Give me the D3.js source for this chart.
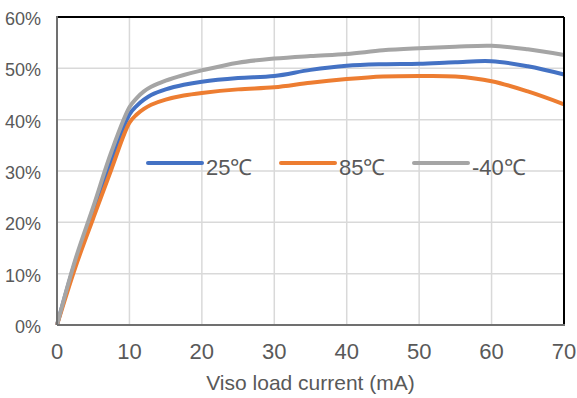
<!DOCTYPE html>
<html>
<head>
<meta charset="utf-8">
<script src="https://cdn.jsdelivr.net/npm/d3@7"></script>
<style>
  body { margin: 0; background: #fff; }
  text { font-family: "Liberation Sans", Arial, sans-serif; fill: #595959; }
</style>
</head>
<body>
<div id="chart"></div>
<script>
// 数据
const loadCurrent = [0, 2.5, 5, 7.5, 10, 11, 12, 13, 15, 17.5, 20, 25, 30, 35, 40, 45, 50, 55, 60, 65, 70];
const eff25 = [0, 12.2, 22, 32, 41, 42.7, 43.9, 44.8, 45.9, 46.8, 47.4, 48.1, 48.5, 49.7, 50.5, 50.8, 50.9, 51.2, 51.4, 50.4, 48.8];
const eff85 = [0, 11.1, 20.8, 30.3, 39.4, 41, 42.1, 42.9, 43.9, 44.7, 45.2, 45.9, 46.3, 47.2, 47.9, 48.4, 48.5, 48.4, 47.5, 45.5, 43.0];
const effM40 = [0, 12.6, 23, 33.7, 42.4, 44.2, 45.5, 46.4, 47.6, 48.7, 49.6, 51.1, 51.9, 52.4, 52.8, 53.5, 53.9, 54.2, 54.4, 53.7, 52.6];
const xTicks = [0, 10, 20, 30, 40, 50, 60, 70];
const yTicks = [0, 10, 20, 30, 40, 50, 60];

const series = [
    {name: "25℃", values: eff25, color: "#4472C4"},
    {name: "85℃", values: eff85, color: "#ED7D31"},
    {name: "-40℃", values: effM40, color: "#A5A5A5"}
];

const width = 577, height = 398;
const plot = {left: 57, right: 564, top: 17, bottom: 325};

const svg = d3.select("#chart").append("svg")
    .attr("width", width)
    .attr("height", height);

const x = d3.scaleLinear().domain([0, 70]).range([plot.left, plot.right]);
const y = d3.scaleLinear().domain([0, 60]).range([plot.bottom, plot.top]);

// 网格线
svg.append("g").selectAll("line.v")
    .data(xTicks.slice(1, -1))
    .join("line")
    .attr("x1", d => x(d)).attr("x2", d => x(d))
    .attr("y1", plot.top).attr("y2", plot.bottom)
    .attr("stroke", "#d9d9d9").attr("stroke-width", 1.5);

svg.append("g").selectAll("line.h")
    .data(yTicks.slice(1, -1))
    .join("line")
    .attr("x1", plot.left).attr("x2", plot.right)
    .attr("y1", d => y(d)).attr("y2", d => y(d))
    .attr("stroke", "#d9d9d9").attr("stroke-width", 1.5);

// 折线（平滑）
const line = d3.line()
    .x((d, i) => x(loadCurrent[i]))
    .y(d => y(d))
    .curve(d3.curveCatmullRom.alpha(0.5));

svg.append("g").selectAll("path")
    .data(series)
    .join("path")
    .attr("d", d => line(d.values))
    .attr("fill", "none")
    .attr("stroke", d => d.color)
    .attr("stroke-width", 4)
    .attr("stroke-linejoin", "round");

// 边框：上、右黑色，左、下灰色
svg.append("line")
    .attr("x1", plot.left).attr("x2", plot.right)
    .attr("y1", plot.top).attr("y2", plot.top)
    .attr("stroke", "#000").attr("stroke-width", 2);
svg.append("line")
    .attr("x1", plot.right).attr("x2", plot.right)
    .attr("y1", plot.top).attr("y2", plot.bottom)
    .attr("stroke", "#000").attr("stroke-width", 2);
svg.append("line")
    .attr("x1", plot.left).attr("x2", plot.left)
    .attr("y1", plot.top - 1).attr("y2", plot.bottom)
    .attr("stroke", "#707070").attr("stroke-width", 2);
svg.append("line")
    .attr("x1", plot.left).attr("x2", plot.right + 1)
    .attr("y1", plot.bottom).attr("y2", plot.bottom)
    .attr("stroke", "#707070").attr("stroke-width", 2);

// 坐标轴标签
svg.append("g").selectAll("text")
    .data(yTicks)
    .join("text")
    .attr("x", 41)
    .attr("y", d => y(d) + 8)
    .attr("text-anchor", "end")
    .style("font-size", "18px")
    .text(d => d + "%");

svg.append("g").selectAll("text")
    .data(xTicks)
    .join("text")
    .attr("x", d => x(d))
    .attr("y", 359)
    .attr("text-anchor", "middle")
    .style("font-size", "22px")
    .text(d => d);

svg.append("text")
    .attr("x", (plot.left + plot.right) / 2)
    .attr("y", 390)
    .attr("text-anchor", "middle")
    .style("font-size", "21px")
    .text("Viso load current (mA)");

// 图例
const legendX = [148, 281, 414];
const legend = svg.append("g").selectAll("g")
    .data(series)
    .join("g")
    .attr("transform", (d, i) => `translate(${legendX[i]},163)`);

legend.append("line")
    .attr("x1", 0).attr("x2", 54)
    .attr("stroke", d => d.color)
    .attr("stroke-width", 4)
    .attr("stroke-linecap", "round");

legend.append("text")
    .attr("x", 58)
    .attr("y", 12)
    .style("font-size", "22px")
    .text(d => d.name);
</script>
</body>
</html>
